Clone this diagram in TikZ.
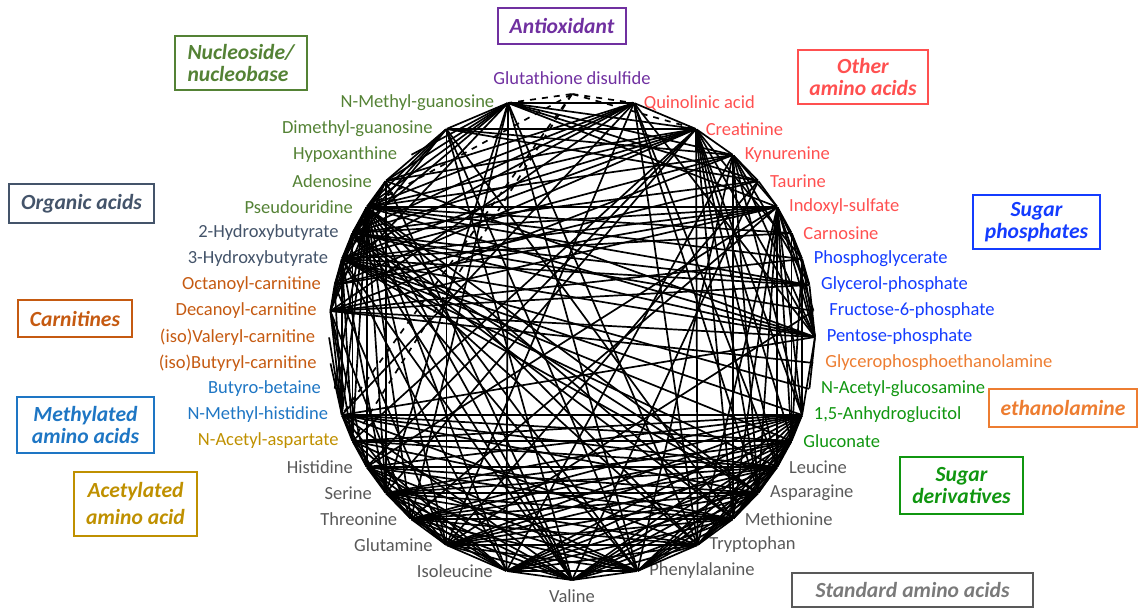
\documentclass[tikz,border=0pt]{standalone}
\usepackage{fontspec}
\setmainfont{Carlito}
\usetikzlibrary{positioning}

\definecolor{antiox}{RGB}{112,48,160}
\definecolor{nucleo}{RGB}{84,130,53}
\definecolor{organic}{RGB}{68,84,106}
\definecolor{carnit}{RGB}{197,90,17}
\definecolor{methyl}{RGB}{30,118,196}
\definecolor{acetyl}{RGB}{191,144,0}
\definecolor{otheraa}{RGB}{255,80,80}
\definecolor{sugphos}{RGB}{20,60,255}
\definecolor{ethan}{RGB}{237,125,49}
\definecolor{sugder}{RGB}{16,150,16}
\definecolor{stdaa}{RGB}{89,89,89}

\begin{document}
\begin{tikzpicture}[x=0.5pt, y=-0.5pt, node distance=4pt,
  vertex/.style={inner sep=0pt, minimum size=0pt},
  metab/.style={inner sep=1.5pt, font=\fontsize{9.25}{11}\selectfont},
  group/.style={draw, line width=0.8pt, inner sep=1pt, align=center,
    font=\fontsize{10.8}{11}\selectfont\bfseries\itshape},
  link/.style={line width=0.85pt},
  neglink/.style={link, dashed}
]
\useasboundingbox (0,0) rectangle (1139,608);

  % -- Metabolites on the ring, right half --
  \node[vertex] (gssg)   at (572,94)    {};
  \node[vertex] (quin)   at (634,103)   {};
  \node[vertex] (crea)   at (696,129)   {};
  \node[vertex] (kyn)    at (733,155)   {};
  \node[vertex] (tau)    at (758.3,181) {};
  \node[vertex] (indox)  at (777.3,207) {};
  \node[vertex] (carno)  at (791.6,233) {};
  \node[vertex] (pgly)   at (802.1,259) {};
  \node[vertex] (glyp)   at (809.4,285) {};
  \node[vertex] (fsix)   at (813.6,311) {};
  \node[vertex] (pent)   at (815,337)   {};
  \node[vertex] (gpe)    at (813.6,363) {};
  \node[vertex] (nacglc) at (809.4,389) {};
  \node[vertex] (ahg)    at (802.1,415) {};
  \node[vertex] (glcn)   at (791.6,441) {};
  \node[vertex] (leu)    at (777.3,467) {};
  \node[vertex] (asn)    at (758.3,493) {};
  \node[vertex] (met)    at (733,519)   {};
  \node[vertex] (trp)    at (697.6,545) {};
  \node[vertex] (phe)    at (637.5,571) {};
  \node[vertex] (val)    at (572,580)   {};

  % -- Metabolites on the ring, left half --
  \node[vertex] (ile)     at (506.5,571) {};
  \node[vertex] (gln)     at (446.4,545) {};
  \node[vertex] (thr)     at (411,519)   {};
  \node[vertex] (ser)     at (385.7,493) {};
  \node[vertex] (his)     at (366.7,467) {};
  \node[vertex] (naa)     at (352.4,441) {};
  \node[vertex] (mhis)    at (341.9,415) {};
  \node[vertex] (bbt)     at (334.6,389) {};
  \node[vertex] (cfour)   at (330.4,363) {};
  \node[vertex] (cfive)   at (329,337)   {};
  \node[vertex] (cten)    at (330.4,311) {};
  \node[vertex] (ceight)  at (334.6,285) {};
  \node[vertex] (hbthree) at (341.9,259) {};
  \node[vertex] (hbtwo)   at (352.4,233) {};
  \node[vertex] (psu)     at (366.7,207) {};
  \node[vertex] (ado)     at (385.7,181) {};
  \node[vertex] (hyp)     at (411,155)   {};
  \node[vertex] (dmg)     at (446.4,129) {};
  \node[vertex] (nmg)     at (508,103)   {};

  % -- Labels --
  \node[metab, above=3pt of gssg, text=antiox] (gssgL) {Glutathione disulfide};
  \node[metab, right=3pt of quin, text=otheraa] (quinL) {Quinolinic acid};
  \node[metab, right=3pt of crea, text=otheraa] (creaL) {Creatinine};
  \node[metab, right=of kyn, text=otheraa] (kynL) {Kynurenine};
  \node[metab, right=of tau, text=otheraa] (tauL) {Taurine};
  \node[metab, right=of indox, text=otheraa] (indoxL) {Indoxyl-sulfate};
  \node[metab, right=of carno, text=otheraa] (carnoL) {Carnosine};
  \node[metab, right=of pgly, text=sugphos] (pglyL) {Phosphoglycerate};
  \node[metab, right=of glyp, text=sugphos] (glypL) {Glycerol-phosphate};
  \node[metab, right=6pt of fsix, text=sugphos] (fsixL) {Fructose-6-phosphate};
  \node[metab, right=of pent, text=sugphos] (pentL) {Pentose-phosphate};
  \node[metab, right=of gpe, text=ethan] (gpeL) {Glycerophosphoethanolamine};
  \node[metab, right=of nacglc, text=sugder] (nacglcL) {N-Acetyl-glucosamine};
  \node[metab, right=of ahg, text=sugder] (ahgL) {1,5-Anhydroglucitol};
  \node[metab, right=of glcn, text=sugder] (glcnL) {Gluconate};
  \node[metab, right=of leu, text=stdaa] (leuL) {Leucine};
  \node[metab, right=of asn, text=stdaa] (asnL) {Asparagine};
  \node[metab, right=of met, text=stdaa] (metL) {Methionine};
  \node[metab, right=of trp, text=stdaa] (trpL) {Tryptophan};
  \node[metab, right=of phe, text=stdaa] (pheL) {Phenylalanine};
  \node[metab, below=3pt of val, text=stdaa] (valL) {Valine};
  \node[metab, left=5pt of ile, text=stdaa] (ileL) {Isoleucine};
  \node[metab, left=5pt of gln, text=stdaa] (glnL) {Glutamine};
  \node[metab, left=5pt of thr, text=stdaa] (thrL) {Threonine};
  \node[metab, left=5pt of ser, text=stdaa] (serL) {Serine};
  \node[metab, left=5pt of his, text=stdaa] (hisL) {Histidine};
  \node[metab, left=5pt of naa, text=acetyl] (naaL) {N-Acetyl-aspartate};
  \node[metab, left=5pt of mhis, text=methyl] (mhisL) {N-Methyl-histidine};
  \node[metab, left=5pt of bbt, text=methyl] (bbtL) {Butyro-betaine};
  \node[metab, left=5pt of cfour, text=carnit] (cfourL) {(iso)Butyryl-carnitine};
  \node[metab, left=5pt of cfive, text=carnit] (cfiveL) {(iso)Valeryl-carnitine};
  \node[metab, left=5pt of cten, text=carnit] (ctenL) {Decanoyl-carnitine};
  \node[metab, left=5pt of ceight, text=carnit] (ceightL) {Octanoyl-carnitine};
  \node[metab, left=5pt of hbthree, text=organic] (hbthreeL) {3-Hydroxybutyrate};
  \node[metab, left=5pt of hbtwo, text=organic] (hbtwoL) {2-Hydroxybutyrate};
  \node[metab, left=5pt of psu, text=nucleo] (psuL) {Pseudouridine};
  \node[metab, left=5pt of ado, text=nucleo] (adoL) {Adenosine};
  \node[metab, left=5pt of hyp, text=nucleo] (hypL) {Hypoxanthine};
  \node[metab, left=5pt of dmg, text=nucleo] (dmgL) {Dimethyl-guanosine};
  \node[metab, left=5pt of nmg, text=nucleo] (nmgL) {N-Methyl-guanosine};

  % -- Class boxes --
  \node[group, draw=antiox, text=antiox, minimum width=64pt, minimum height=18pt] (antioxG) at (562,26) {Antioxidant};
  \node[group, draw=nucleo, text=nucleo, align=left, minimum width=66pt, minimum height=27pt] (nucleoG) at (241,63) {Nucleoside/\\nucleobase};
  \node[group, draw=otheraa, text=otheraa, minimum width=65pt, minimum height=27pt] (otheraaG) at (863,77) {Other\\amino acids};
  \node[group, draw=organic, text=organic, minimum width=72.5pt, minimum height=19.5pt] (organicG) at (81.5,203.5) {Organic acids};
  \node[group, draw=sugphos, text=sugphos, minimum width=63.5pt, minimum height=27pt] (sugphosG) at (1036.5,222) {Sugar\\phosphates};
  \node[group, draw=carnit, text=carnit, minimum width=57pt, minimum height=18.5pt] (carnitG) at (75,318.5) {Carnitines};
  \node[group, draw=methyl, text=methyl, minimum width=68.5pt, minimum height=28pt] (methylG) at (85.5,425) {Methylated\\amino acids};
  \node[group, draw=acetyl, text=acetyl, minimum width=61.5pt, minimum height=32pt] (acetylG) at (135.5,504) {Acetylated\\[2.5pt]amino acid};
  \node[group, draw=ethan, text=ethan, minimum width=74pt, minimum height=19pt] (ethanG) at (1063,408) {ethanolamine};
  \node[group, draw=sugder, text=sugder, minimum width=61.5pt, minimum height=28.5pt] (sugderG) at (961.5,485.5) {Sugar\\derivatives};
  \node[group, draw=stdaa, text=stdaa!80, minimum width=120.5pt, minimum height=17pt] (stdaaG) at (912.5,590) {Standard amino acids};

  % -- Negative associations --
  \draw[neglink] (gssg) edge (nmg) edge (quin) edge (crea) edge (psu) edge (mhis) edge (naa);

  % -- Positive associations --
  \draw[link] (nmg) edge (dmg) edge (quin) edge (crea) edge (kyn) edge (tau) edge (indox) edge (ile) edge (phe)
    edge (trp) edge (ser) edge (thr) edge (hbtwo) edge (ceight) edge (hyp) edge (psu) edge (ado);
  \draw[link] (dmg) edge (crea) edge (ado) edge (psu) edge (kyn) edge (tau) edge (hbtwo) edge (hbthree)
    edge (val) edge (phe) edge (met) edge (gln);
  \draw[link] (quin) edge (crea) edge (ado) edge (psu) edge (hbtwo) edge (hbthree) edge (cten) edge (mhis)
    edge (leu) edge (asn) edge (trp) edge (gln) edge (pent);
  \draw[link] (crea) edge (kyn) edge (trp) edge (psu) edge (hbtwo) edge (hbthree) edge (ado) edge (ceight)
    edge (naa) edge (pgly) edge (pent) edge (ahg) edge (glcn) edge (met) edge (asn) edge (leu) edge (ser) edge (his);
  \draw[link] (kyn) edge (tau) edge (indox) edge (psu) edge (hbthree) edge (cten) edge (pent) edge (glyp)
    edge (ahg) edge (asn) edge (met) edge (phe) edge (ile);
  \draw[link] (tau) edge (indox) edge (ceight) edge (val) edge (gln) edge (hbtwo);
  \draw[link] (indox) edge (carno) edge (pgly) edge (leu) edge (psu) edge (hbtwo) edge (hbthree) edge (ceight)
    edge (cten) edge (pent) edge (fsix) edge (ahg) edge (glcn) edge (asn) edge (met) edge (trp) edge (thr) edge (his);
  \draw[link] (carno) edge (pgly) edge (glyp) edge (hbthree) edge (pent) edge (glcn);
  \draw[link] (pgly) edge (glyp) edge (ahg) edge (cten) edge (pent) edge (glcn) edge (psu);
  \draw[link] (glyp) edge (cten) edge (pent) edge (hbtwo) edge (hbthree);
  \draw[link] (fsix) edge (gln);
  \draw[link] (pent) edge (psu) edge (hbtwo) edge (hbthree) edge (cten) edge (mhis) edge (ado) edge (nacglc) edge (ahg);
  \draw[link] (gpe) edge (cten);
  \draw[link] (nacglc) edge (hbthree);
  \draw[link] (ahg) edge (glcn) edge (leu) edge (asn) edge (met) edge (trp) edge (phe) edge (val) edge (ile)
    edge (gln) edge (thr) edge (ser) edge (his) edge (naa) edge (mhis) edge (hbthree);
  \draw[link] (glcn) edge (leu) edge (asn) edge (met) edge (trp) edge (phe) edge (val) edge (ile) edge (gln)
    edge (thr) edge (ser) edge (mhis) edge (naa);

  % -- Amino acid block --
  \draw[link] (leu) edge (asn) edge (met) edge (trp) edge (phe) edge (val) edge (ile) edge (gln) edge (thr) edge (ser) edge (his);
  \draw[link] (asn) edge (met) edge (trp) edge (phe) edge (val) edge (ile) edge (gln) edge (thr) edge (ser) edge (his);
  \draw[link] (met) edge (trp) edge (phe) edge (val) edge (ile) edge (gln) edge (thr) edge (ser) edge (his);
  \draw[link] (trp) edge (phe) edge (val) edge (ile) edge (gln) edge (thr) edge (ser);
  \draw[link] (phe) edge (val) edge (ile) edge (gln) edge (thr) edge (ser) edge (his);
  \draw[link] (val) edge (ile) edge (gln) edge (thr) edge (ser) edge (his);
  \draw[link] (ile) edge (gln) edge (thr) edge (ser) edge (his);
  \draw[link] (gln) edge (thr) edge (ser) edge (his);
  \draw[link] (thr) edge (ser) edge (his);
  \draw[link] (ser) edge (his);

  % -- Left half --
  \draw[link] (psu) edge (ado) edge (hbtwo) edge (hbthree) edge (ceight) edge (cten) edge (bbt) edge (mhis)
    edge (naa) edge (his) edge (ser) edge (thr) edge (gln) edge (ile) edge (val) edge (phe) edge (trp)
    edge (met) edge (asn) edge (glyp) edge (carno);
  \draw[link] (ado) edge (hbtwo) edge (ser) edge (hbthree) edge (cten) edge (val);
  \draw[link] (hbtwo) edge (hbthree) edge (ceight) edge (cten) edge (fsix) edge (trp) edge (met)
    edge (asn) edge (val) edge (phe) edge (naa);
  \draw[link] (hbthree) edge (ceight) edge (cten) edge (mhis) edge (naa) edge (glcn) edge (leu)
    edge (asn) edge (ile) edge (val) edge (ser);
  \draw[link] (ceight) edge (cten) edge (mhis) edge (gln);
  \draw[link] (cten) edge (mhis) edge (naa) edge (his) edge (thr);
  \draw[link] (cfive) edge (mhis);
  \draw[link] (cfour) edge (mhis);
  \draw[link] (mhis) edge (naa) edge (his) edge (ser) edge (gln) edge (val) edge (trp) edge (asn) edge (leu);
  \draw[link] (naa) edge (his) edge (thr) edge (ile) edge (phe) edge (met) edge (leu);

\end{tikzpicture}
\end{document}
